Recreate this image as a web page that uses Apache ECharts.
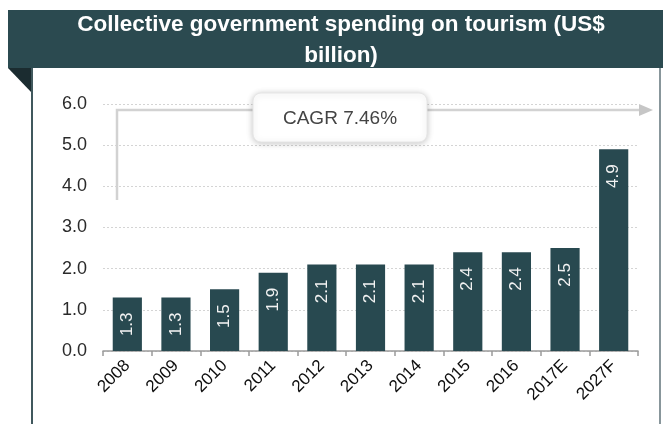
<!DOCTYPE html>
<html>
<head>
<meta charset="utf-8">
<script src="https://cdn.jsdelivr.net/npm/echarts@6/dist/echarts.min.js"></script>
<style>
  html, body { margin: 0; padding: 0; background: #fff; }
  #chart { width: 663px; height: 424px; }
</style>
</head>
<body>
<div id="chart"></div>
<script>
// Government spending on tourism, US$ billion
const years = ['2008', '2009', '2010', '2011', '2012', '2013', '2014', '2015', '2016', '2017E', '2027F'];
const spending = [1.3, 1.3, 1.5, 1.9, 2.1, 2.1, 2.1, 2.4, 2.4, 2.5, 4.9];
const titleLines = ['Collective government spending on tourism (US$', 'billion)'];
const cagrText = 'CAGR 7.46%';

const FONT = '"Liberation Sans", Arial, sans-serif';
const BAR = '#284950';

const chart = echarts.init(document.getElementById('chart'), null, { renderer: 'canvas' });

chart.setOption({
  animation: false,
  backgroundColor: '#fff',
  textStyle: { fontFamily: FONT },
  grid: { left: 103, right: 25, top: 104, bottom: 73, containLabel: false },
  xAxis: {
    type: 'category',
    data: years,
    boundaryGap: true,
    axisLine: { show: true, lineStyle: { color: '#9a9a9a', width: 1.5 } },
    axisTick: { show: true, alignWithLabel: false, length: 5, lineStyle: { color: '#9a9a9a', width: 1.5 } },
    axisLabel: { rotate: 45, fontSize: 17, color: '#0d0d0d', margin: 12, fontFamily: FONT, interval: 0 }
  },
  yAxis: {
    type: 'value',
    min: 0,
    max: 6,
    interval: 1,
    axisLine: { show: false },
    axisTick: { show: false },
    axisLabel: {
      fontSize: 18, color: '#2a2a2a', margin: 16, fontFamily: FONT,
      formatter: v => v.toFixed(1)
    },
    splitLine: { show: true, lineStyle: { color: '#d4d4d4', type: [2, 2], width: 1 } }
  },
  series: [{
    type: 'bar',
    data: spending,
    barCategoryGap: '40%',
    itemStyle: { color: BAR },
    label: {
      show: true,
      position: 'insideTop',
      distance: 15,
      rotate: 90,
      align: 'right',
      verticalAlign: 'middle',
      color: '#f2f2f2',
      fontSize: 17,
      fontFamily: FONT,
      formatter: p => p.value.toFixed(1)
    },
    z: 3
  }],
  graphic: [
    // header band with folded corner
    { type: 'rect', shape: { x: 8, y: 10, width: 655, height: 58 }, style: { fill: '#2b4a50' }, z: 1 },
    { type: 'polygon', shape: { points: [[8, 68], [32, 68], [32, 93]] }, style: { fill: '#1b2c30' }, z: 1 },
    { type: 'line', shape: { x1: 32, y1: 68, x2: 32, y2: 424 }, style: { stroke: '#40585d', lineWidth: 2 }, z: 1 },
    { type: 'line', shape: { x1: 660, y1: 68, x2: 660, y2: 424 }, style: { stroke: '#60737a', lineWidth: 1.5 }, z: 1 },
    {
      type: 'text', x: 341, y: 25, z: 2,
      style: { text: titleLines[0], fill: '#fff', font: 'bold 22.5px ' + FONT, align: 'center', verticalAlign: 'middle' }
    },
    {
      type: 'text', x: 341, y: 56, z: 2,
      style: { text: titleLines[1], fill: '#fff', font: 'bold 22.5px ' + FONT, align: 'center', verticalAlign: 'middle' }
    },
    // growth arrow
    { type: 'polyline', shape: { points: [[117, 200], [117, 110], [641, 110]] }, style: { stroke: '#d2d2d2', lineWidth: 2.5, fill: null }, z: 1 },
    { type: 'polygon', shape: { points: [[639, 104], [653, 110], [639, 116]] }, style: { fill: '#c6c6c6' }, z: 1 },
    // CAGR callout
    {
      type: 'rect', z: 4,
      shape: { x: 253, y: 93, width: 174, height: 49, r: 8 },
      style: { fill: '#fff', stroke: '#e6e6e6', lineWidth: 1, shadowBlur: 6, shadowColor: 'rgba(0,0,0,0.22)', shadowOffsetY: 1 }
    },
    {
      type: 'text', x: 340, y: 119, z: 5,
      style: { text: cagrText, fill: '#444', font: '19px ' + FONT, align: 'center', verticalAlign: 'middle' }
    }
  ]
});
</script>
</body>
</html>
